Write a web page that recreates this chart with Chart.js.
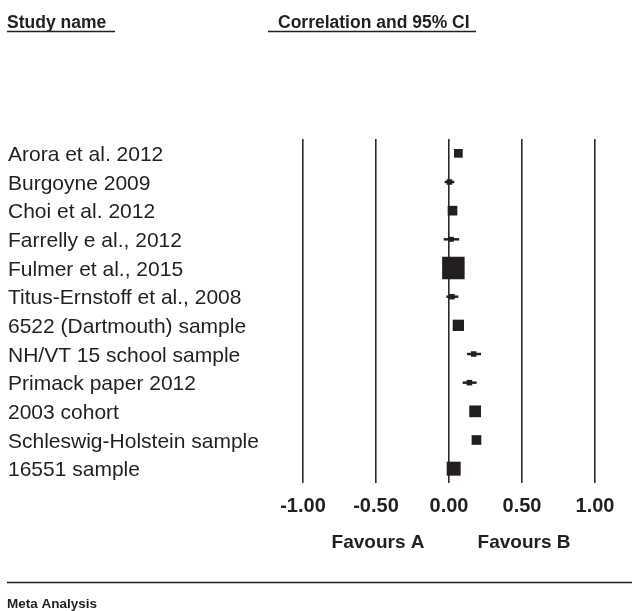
<!DOCTYPE html>
<html>
<head>
<meta charset="utf-8">
<script src="https://cdn.jsdelivr.net/npm/chart.js@4"></script>
<style>
  html, body { margin: 0; padding: 0; background: #fff; }
  #wrap { width: 632px; height: 611px; }
</style>
</head>
<body>
<div id="wrap"><canvas id="forest" width="632" height="611"></canvas></div>
<script>
// studies, top to bottom
const studies = [
  "Arora et al. 2012",
  "Burgoyne 2009",
  "Choi et al. 2012",
  "Farrelly e al., 2012",
  "Fulmer et al., 2015",
  "Titus-Ernstoff et al., 2008",
  "6522 (Dartmouth) sample",
  "NH/VT 15 school sample",
  "Primack paper 2012",
  "2003 cohort",
  "Schleswig-Holstein sample",
  "16551 sample"
];
// correlation and 95% CI
const correlation = [0.064, 0.003, 0.024, 0.016, 0.030, 0.020, 0.064, 0.169, 0.140, 0.179, 0.188, 0.032];
const lowerCI = [0.045, -0.027, 0.008, -0.034, 0.015, -0.016, 0.045, 0.126, 0.096, 0.160, 0.172, 0.012];
const upperCI = [0.083, 0.034, 0.040, 0.067, 0.045, 0.062, 0.083, 0.217, 0.187, 0.198, 0.204, 0.052];
// relative weight (%)
const weights = [5.5, 2.2, 6.8, 1.8, 36.8, 2.2, 9.3, 2.2, 2.2, 10.0, 6.8, 14.2];
const xTicks = [-1, -0.5, 0, 0.5, 1];

const ink = '#231f20';
const fontFam = '"Liberation Sans", Arial, Helvetica, sans-serif';

// square side grows with sqrt(weight), rect radius -> side = r * sqrt(2)
function markerRadius(w) {
  const side = 3.71 * Math.sqrt(w);
  return side / Math.SQRT2;
}

const extraText = {
  id: 'extraText',
  afterDraw(chart) {
    const ctx = chart.ctx;
    const x = chart.scales.x;
    ctx.save();
    ctx.fillStyle = ink;
    ctx.strokeStyle = ink;
    ctx.textBaseline = 'alphabetic';
    ctx.textAlign = 'left';
    ctx.font = 'bold 17.5px ' + fontFam;
    ctx.fillText('Study name', 7, 27.5);
    ctx.fillText('Correlation and 95% CI', 278, 27.5);
    ctx.lineWidth = 1.4;
    ctx.beginPath();
    ctx.moveTo(7, 31.5); ctx.lineTo(115, 31.5);
    ctx.moveTo(268, 31.5); ctx.lineTo(476, 31.5);
    ctx.stroke();

    ctx.font = 'bold 19px ' + fontFam;
    ctx.textAlign = 'center';
    ctx.textBaseline = 'middle';
    ctx.fillText('Favours A', x.getPixelForValue(-0.5) + 2, 543);
    ctx.fillText('Favours B', x.getPixelForValue(0.5) + 2, 543);

    ctx.lineWidth = 1.6;
    ctx.beginPath();
    ctx.moveTo(7, 582.5); ctx.lineTo(632, 582.5);
    ctx.stroke();

    ctx.textAlign = 'left';
    ctx.textBaseline = 'alphabetic';
    ctx.font = 'bold 13.5px ' + fontFam;
    ctx.fillText('Meta Analysis', 7, 608);
    ctx.restore();
  }
};

new Chart(document.getElementById('forest'), {
  type: 'bar',
  data: {
    labels: studies,
    datasets: [
      {
        label: 'CI',
        data: studies.map((s, i) => [lowerCI[i], upperCI[i]]),
        backgroundColor: ink,
        barThickness: 1.8,
        order: 2
      },
      {
        type: 'line',
        label: 'Correlation',
        data: studies.map((s, i) => ({ x: correlation[i], y: s })),
        showLine: false,
        pointStyle: 'rect',
        pointRadius: weights.map(markerRadius),
        pointBackgroundColor: ink,
        pointBorderWidth: 0,
        order: 1
      }
    ]
  },
  options: {
    indexAxis: 'y',
    responsive: false,
    animation: false,
    layout: { padding: { left: 8, right: 37, top: 139, bottom: 0 } },
    plugins: { legend: { display: false }, tooltip: { enabled: false } },
    scales: {
      x: {
        type: 'linear',
        min: -1,
        max: 1,
        afterBuildTicks: (scale) => { scale.ticks = xTicks.map(v => ({ value: v })); },
        afterFit: (scale) => { scale.height = 128; },
        grid: { color: '#2a2a2a', lineWidth: 1.6, drawTicks: false },
        border: { display: false },
        ticks: {
          padding: 11,
          color: ink,
          font: { family: fontFam, size: 20, weight: 'bold' },
          callback: (v) => Number(v).toFixed(2)
        }
      },
      y: {
        type: 'category',
        offset: true,
        afterFit: (scale) => { scale.width = 295; },
        grid: { display: false },
        border: { display: false },
        ticks: {
          crossAlign: 'far',
          labelOffset: 2,
          color: ink,
          font: { family: fontFam, size: 21 }
        }
      }
    }
  },
  plugins: [extraText]
});
</script>
</body>
</html>
